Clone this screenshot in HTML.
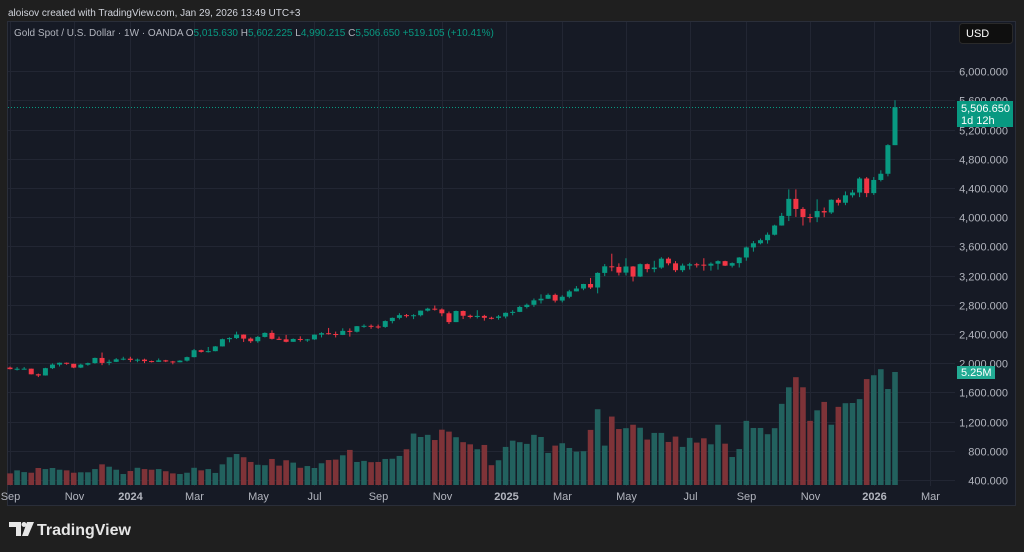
<!DOCTYPE html>
<html><head><meta charset="utf-8"><style>
html,body{margin:0;padding:0;background:#1f1f1f;width:1024px;height:552px;overflow:hidden;font-family:"Liberation Sans",sans-serif}
svg text{font-family:"Liberation Sans",sans-serif}
</style></head><body>
<svg id="chart" width="1024" height="552" xmlns="http://www.w3.org/2000/svg">
<rect x="0" y="0" width="1024" height="552" fill="#1f1f1f"/>
<text x="8" y="16" font-size="10" fill="#d1d4dc">aloisov created with TradingView.com, Jan 29, 2026 13:49 UTC+3</text>
<rect x="7.5" y="21.5" width="1008" height="484" fill="#161a25" stroke="#2a2e39"/>
<g id="grid"></g>
<g id="vol"></g>
<g id="candles"></g>
<g id="yaxis"></g>
<g id="xaxis"></g>
<line x1="8" y1="107.5" x2="955" y2="107.5" stroke="#089981" stroke-width="1" stroke-dasharray="1,2"/>
<g>
<rect x="957" y="101" width="56" height="26" fill="#089981"/>
<text x="961" y="112" font-size="11" fill="#fff">5,506.650</text>
<text x="961" y="124" font-size="11" fill="#fff">1d 12h</text>
</g>
<g>
<rect x="957" y="366" width="38" height="13" fill="#22ab94"/>
<text x="961" y="376" font-size="11" fill="#fff">5.25M</text>
</g>
<g>
<rect x="959.5" y="23.5" width="53" height="20" rx="3" fill="#0f0f0f" stroke="#2a2a2a"/>
<text x="966" y="37" font-size="11" fill="#fff">USD</text>
</g>
<text x="14" y="36" font-size="10"><tspan fill="#b2b5be">Gold Spot / U.S. Dollar · 1W · OANDA  O</tspan><tspan fill="#089981">5,015.630</tspan><tspan fill="#b2b5be">  H</tspan><tspan fill="#089981">5,602.225</tspan><tspan fill="#b2b5be">  L</tspan><tspan fill="#089981">4,990.215</tspan><tspan fill="#b2b5be">  C</tspan><tspan fill="#089981">5,506.650  +519.105 (+10.41%)</tspan></text>
<g>
<path d="M9 522 h12 v14 h-5 v-9 h-7 z" fill="#e6e6e6"/>
<circle cx="24" cy="524.5" r="2.5" fill="#e6e6e6"/>
<path d="M27 522 h7 l-6 14 h-6 z" fill="#e6e6e6"/>
<text x="37" y="535" font-size="16" font-weight="bold" fill="#e6e6e6">TradingView</text>
</g>
</svg>
<script>
const closes=[1919,1924,1925,1848,1832,1932,1981,2006,1992,1940,1980,2001,2072,2004,2019,2053,2062,
2045,2049,2029,2018,2039,2024,2013,2035,2083,2178,2155,2165,2230,2329,2344,2392,2337,2301,2360,2415,2334,2327,2293,2332,2321,2326,2391,2411,2400,2387,2443,2431,2507,2512,2503,2497,2577,2621,2658,2653,2657,2720,2747,2736,2684,2563,2715,2650,2633,2648,2622,2621,2640,
2690,2703,2770,2800,2861,2883,2936,2858,2910,2984,3023,3085,3037,3237,3327,3319,3241,3325,3187,3357,3289,3310,3432,3368,3274,3337,3355,3350,3336,3363,3398,3336,3371,3448,3586,3643,3685,3760,3886,4018,4251,4113,4002,4000,4084,4065,4239,4198,4300,4338,4530,4330,
4510,4595,4987,5506];
const highs=[1953,1947,1947,1926,1858,1937,1997,2010,2010,1993,1993,2008,2076,2146,2048,2070,2088,
2088,2063,2062,2036,2065,2046,2032,2041,2090,2195,2185,2222,2235,2337,2355,2432,2395,2353,2373,2422,2450,2364,2388,2339,2368,2332,2395,2424,2483,2433,2478,2477,2509,2532,2531,2529,2586,2626,2685,2674,2671,2722,2759,2790,2750,2708,2721,2721,2666,2726,2663,2636,2660,
2695,2726,2786,2817,2886,2942,2955,2954,2930,3005,3057,3087,3168,3245,3358,3500,3368,3438,3330,3366,3366,3403,3452,3451,3398,3365,3375,3375,3438,3381,3409,3404,3380,3453,3599,3674,3707,3791,3897,4059,4381,4381,4138,4046,4245,4133,4245,4264,4353,4375,4550,4550,
4550,4643,5000,5602];
const lows=[1915,1901,1913,1846,1810,1830,1920,1955,1979,1932,1933,1966,1993,1973,1973,2016,2041,
2016,2013,2001,2010,2017,2015,1985,2012,2024,2080,2146,2146,2163,2228,2286,2331,2291,2277,2280,2353,2325,2320,2286,2293,2295,2293,2319,2353,2392,2353,2385,2364,2421,2485,2471,2472,2485,2546,2600,2625,2604,2641,2708,2721,2643,2537,2563,2605,2614,2613,2583,2600,2596,
2614,2656,2700,2750,2772,2817,2880,2832,2833,2890,2982,3000,3016,2957,3193,3260,3202,3202,3120,3180,3245,3245,3293,3341,3248,3248,3283,3310,3268,3268,3281,3331,3311,3311,3404,3528,3628,3638,3750,3884,3947,4004,3886,3928,3932,4000,4045,4160,4165,4270,4275,4275,
4305,4490,4560,4990];
const volumes=[0.54,0.68,0.60,0.57,0.79,0.74,0.79,0.71,0.68,0.57,0.59,0.59,0.74,0.96,0.85,0.71,0.51,0.65,0.80,0.74,0.71,0.74,0.64,0.54,0.51,0.57,0.80,0.68,0.74,0.56,0.96,1.29,1.44,1.29,1.07,0.94,0.92,1.21,0.90,1.15,1.04,0.80,0.88,0.79,1.01,1.16,1.18,1.38,1.63,1.07,1.12,1.06,1.07,1.21,1.22,1.35,1.66,2.39,2.23,2.33,2.09,2.57,2.48,2.22,1.99,1.89,1.66,1.86,0.92,1.15,1.77,2.06,1.99,1.91,2.33,2.23,1.49,1.83,1.94,1.72,1.55,1.57,2.56,3.52,1.83,3.18,2.60,2.64,2.80,2.66,2.11,2.42,2.42,2.00,2.25,1.77,2.19,1.97,2.17,1.89,2.80,1.92,1.30,1.67,2.98,2.65,2.65,2.36,2.64,3.77,4.54,5.01,4.54,2.98,3.47,3.86,2.80,3.63,3.80,3.81,3.99,4.92,5.10,5.38,4.46,5.25];
const firstOpen=1940;
const priceTicks=[400,800,1200,1600,2000,2400,2800,3200,3600,4000,4400,4800,5200,5600,6000];
const timeLabels=["Sep","Nov","2024","Mar","May","Jul","Sep","Nov","2025","Mar","May","Jul","Sep","Nov","2026","Mar"];
const timeIdx=[0,9,17,26,35,43,52,61,70,78,87,96,104,113,122,130];
const yearLabel=[false,false,true,false,false,false,false,false,true,false,false,false,false,false,true,false];

const NS="http://www.w3.org/2000/svg";
const xOf=i=>10+i*7.08;
const yOf=p=>480-(p-400)*0.073;
const vH=v=>v/5.25*113;
function mk(tag,attrs,parent){const e=document.createElementNS(NS,tag);for(const k in attrs)e.setAttribute(k,attrs[k]);parent.appendChild(e);return e;}
const grid=document.getElementById('grid'),vol=document.getElementById('vol'),cg=document.getElementById('candles'),ya=document.getElementById('yaxis'),xa=document.getElementById('xaxis');
priceTicks.forEach(p=>{
  const y=Math.round(yOf(p))+0.5;
  const l=mk('line',{x1:8,x2:955,y1:y,y2:y,stroke:'#222633'},grid);
  
  
  const t=mk('text',{x:1008,y:y+4,'font-size':11,fill:'#b2b5be','text-anchor':'end'},ya);
  t.textContent=p.toLocaleString('en-US')+'.000';
  
  
});
timeLabels.forEach((s,k)=>{
  const x=Math.round(xOf(timeIdx[k]))+0.5;
  const l=mk('line',{x1:x,x2:x,y1:22,y2:486,stroke:'#222633'},grid);
  
  
  const t=mk('text',{x:x,y:500,'font-size':11,fill:'#b2b5be','text-anchor':'middle','font-weight':yearLabel[k]?'bold':'normal'},xa);
  t.textContent=s;
  
  
});
closes.forEach((c,i)=>{
  const o=i===0?firstOpen:closes[i-1];
  const up=c>=o;
  const col=up?'#089981':'#f23645';
  const x=xOf(i);
  const h=Math.max(highs[i],o,c),lo=Math.min(lows[i],o,c);
  const vh=vH(volumes[i]);
  const vb=mk('rect',{x:x-2.8,y:485-vh,width:5.6,height:vh,fill:up?'#22615e':'#7e3338'},vol);
  
  
  const w=mk('line',{x1:x,x2:x,y1:yOf(h),y2:yOf(lo),stroke:col,'stroke-width':1},cg);
  
  
  const top=yOf(Math.max(o,c)),bh=Math.max(1,yOf(Math.min(o,c))-top);
  const b=mk('rect',{x:x-2.5,y:top,width:5,height:bh,fill:col},cg);
  
  
});
</script>
</body></html>
